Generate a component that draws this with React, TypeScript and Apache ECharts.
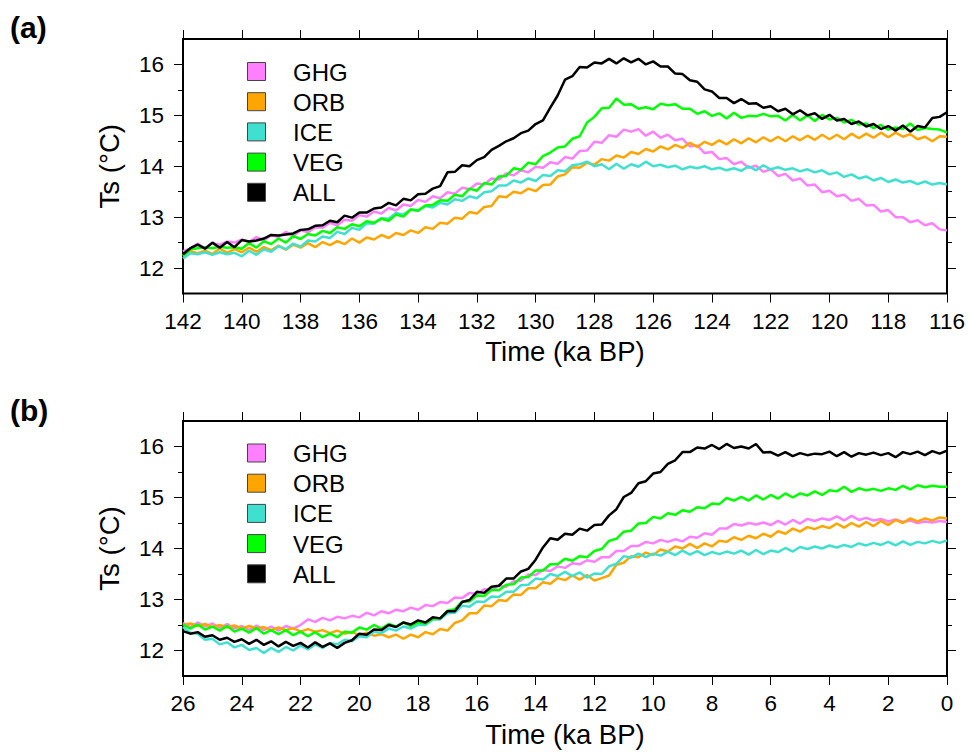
import React, { useEffect, useRef } from "react";
import * as echarts from "echarts";

// ---------- data (Ts in °C, one value every 0.25 ka) ----------
// Panel (a): 142 ka -> 116 ka
const startA = 142;
const stepA = 0.25;
const ghgA = [
  12.33, 12.38, 12.48, 12.38, 12.49, 12.46, 12.52, 12.50, 12.56, 12.51, 12.61, 12.54,
  12.65, 12.61, 12.71, 12.63, 12.74, 12.70, 12.80, 12.79, 12.89, 12.84, 12.95, 12.93,
  13.04, 13.01, 13.11, 13.07, 13.18, 13.13, 13.25, 13.22, 13.34, 13.30, 13.41, 13.37,
  13.49, 13.46, 13.58, 13.55, 13.66, 13.64, 13.76, 13.74, 13.86, 13.82, 13.92, 13.88,
  13.99, 13.97, 14.08, 14.05, 14.18, 14.15, 14.30, 14.31, 14.48, 14.46, 14.61, 14.58,
  14.72, 14.68, 14.73, 14.60, 14.68, 14.56, 14.62, 14.51, 14.54, 14.39, 14.41, 14.26,
  14.28, 14.14, 14.16, 14.04, 14.09, 13.97, 14.01, 13.89, 13.94, 13.81, 13.85, 13.72,
  13.76, 13.62, 13.64, 13.49, 13.52, 13.41, 13.44, 13.32, 13.36, 13.23, 13.24, 13.11,
  13.14, 13.00, 13.00, 12.90, 12.94, 12.84, 12.88, 12.76, 12.74,
];
const orbA = [
  12.24, 12.33, 12.29, 12.34, 12.28, 12.38, 12.30, 12.37, 12.31, 12.40, 12.32, 12.41,
  12.35, 12.44, 12.36, 12.46, 12.40, 12.49, 12.41, 12.51, 12.45, 12.53, 12.47, 12.58,
  12.50, 12.60, 12.56, 12.65, 12.59, 12.69, 12.65, 12.74, 12.69, 12.80, 12.77, 12.89,
  12.87, 12.99, 12.97, 13.10, 13.07, 13.20, 13.22, 13.41, 13.39, 13.50, 13.47, 13.56,
  13.51, 13.63, 13.64, 13.80, 13.84, 13.98, 13.97, 14.07, 14.03, 14.14, 14.11, 14.21,
  14.17, 14.28, 14.24, 14.34, 14.29, 14.39, 14.33, 14.42, 14.36, 14.46, 14.38, 14.48,
  14.42, 14.51, 14.43, 14.53, 14.45, 14.55, 14.47, 14.57, 14.49, 14.58, 14.49, 14.59,
  14.51, 14.60, 14.52, 14.62, 14.53, 14.62, 14.53, 14.64, 14.55, 14.64, 14.56, 14.66,
  14.57, 14.66, 14.58, 14.63, 14.53, 14.58, 14.49, 14.59, 14.58,
];
const iceA = [
  12.19, 12.29, 12.27, 12.31, 12.26, 12.31, 12.27, 12.30, 12.23, 12.34, 12.26, 12.37,
  12.32, 12.43, 12.37, 12.48, 12.42, 12.54, 12.52, 12.62, 12.59, 12.71, 12.67, 12.79,
  12.75, 12.88, 12.87, 12.98, 12.97, 13.08, 13.05, 13.15, 13.12, 13.22, 13.19, 13.28,
  13.25, 13.35, 13.32, 13.41, 13.37, 13.49, 13.51, 13.62, 13.62, 13.72, 13.68, 13.76,
  13.71, 13.83, 13.81, 13.92, 13.90, 14.02, 14.04, 14.09, 14.00, 14.04, 13.94, 14.05,
  13.95, 14.04, 13.99, 14.09, 14.00, 14.03, 13.98, 14.01, 13.94, 13.99, 13.96, 14.00,
  13.94, 13.97, 13.92, 13.96, 13.91, 14.00, 13.92, 14.02, 13.94, 13.98, 13.93, 13.96,
  13.90, 13.94, 13.88, 13.92, 13.84, 13.88, 13.79, 13.84, 13.76, 13.80, 13.72, 13.77,
  13.69, 13.74, 13.68, 13.71, 13.65, 13.70, 13.64, 13.67, 13.64,
];
const vegA = [
  12.24, 12.37, 12.39, 12.41, 12.39, 12.42, 12.40, 12.41, 12.38, 12.49, 12.40, 12.53,
  12.47, 12.58, 12.50, 12.63, 12.57, 12.67, 12.64, 12.73, 12.69, 12.80, 12.77, 12.86,
  12.82, 12.92, 12.89, 12.97, 12.93, 13.05, 13.01, 13.15, 13.13, 13.23, 13.24, 13.33,
  13.32, 13.44, 13.41, 13.56, 13.52, 13.67, 13.64, 13.80, 13.81, 13.96, 13.93, 14.07,
  14.04, 14.20, 14.27, 14.37, 14.39, 14.54, 14.59, 14.86, 14.97, 15.14, 15.15, 15.33,
  15.21, 15.22, 15.13, 15.16, 15.12, 15.23, 15.20, 15.22, 15.13, 15.13, 15.03, 15.08,
  14.99, 15.04, 14.94, 15.05, 14.95, 14.99, 14.98, 15.03, 14.98, 14.99, 14.90, 15.01,
  14.90, 15.00, 14.89, 15.01, 14.92, 14.95, 14.86, 14.91, 14.82, 14.84, 14.75, 14.81,
  14.72, 14.76, 14.73, 14.84, 14.71, 14.75, 14.73, 14.72, 14.66,
];
const allA = [
  12.27, 12.39, 12.46, 12.38, 12.50, 12.40, 12.51, 12.41, 12.55, 12.52, 12.54, 12.58,
  12.65, 12.64, 12.66, 12.68, 12.75, 12.76, 12.83, 12.84, 12.93, 12.90, 13.03, 12.99,
  13.09, 13.09, 13.17, 13.19, 13.28, 13.23, 13.36, 13.33, 13.45, 13.46, 13.56, 13.61,
  13.88, 13.89, 14.02, 14.00, 14.12, 14.18, 14.32, 14.40, 14.49, 14.55, 14.65, 14.70,
  14.83, 14.90, 15.15, 15.39, 15.70, 15.77, 15.95, 15.94, 16.04, 16.02, 16.11, 16.02,
  16.12, 16.04, 16.11, 16.00, 16.06, 15.96, 15.96, 15.82, 15.81, 15.69, 15.66, 15.51,
  15.47, 15.34, 15.34, 15.24, 15.32, 15.23, 15.24, 15.15, 15.18, 15.08, 15.13, 15.02,
  15.10, 15.00, 15.04, 14.93, 15.01, 14.90, 14.93, 14.83, 14.88, 14.78, 14.83, 14.73,
  14.79, 14.70, 14.80, 14.68, 14.79, 14.76, 14.95, 14.97, 15.06,
];

// Panel (b): 26 ka -> 0 ka
const startB = 26;
const stepB = 0.25;
const ghgB = [
  12.54, 12.46, 12.55, 12.47, 12.53, 12.44, 12.52, 12.43, 12.48, 12.40, 12.49, 12.40,
  12.47, 12.39, 12.48, 12.43, 12.50, 12.61, 12.56, 12.64, 12.59, 12.66, 12.63, 12.68,
  12.65, 12.74, 12.69, 12.77, 12.73, 12.80, 12.77, 12.84, 12.80, 12.89, 12.87, 12.95,
  12.93, 13.04, 13.03, 13.13, 13.11, 13.20, 13.18, 13.27, 13.25, 13.36, 13.37, 13.49,
  13.48, 13.58, 13.56, 13.65, 13.62, 13.71, 13.69, 13.77, 13.74, 13.83, 13.83, 13.95,
  13.95, 14.05, 14.05, 14.13, 14.10, 14.17, 14.13, 14.18, 14.14, 14.23, 14.21, 14.30,
  14.27, 14.39, 14.39, 14.48, 14.45, 14.50, 14.47, 14.51, 14.46, 14.54, 14.47, 14.56,
  14.49, 14.58, 14.54, 14.59, 14.56, 14.63, 14.55, 14.64, 14.56, 14.60, 14.55, 14.58,
  14.53, 14.57, 14.52, 14.55, 14.50, 14.53, 14.51, 14.54, 14.52,
];
const orbB = [
  12.50, 12.53, 12.48, 12.52, 12.46, 12.50, 12.45, 12.49, 12.43, 12.48, 12.43, 12.46,
  12.40, 12.45, 12.40, 12.44, 12.37, 12.42, 12.37, 12.40, 12.34, 12.39, 12.33, 12.36,
  12.30, 12.35, 12.29, 12.32, 12.26, 12.31, 12.23, 12.31, 12.26, 12.36, 12.32, 12.42,
  12.39, 12.54, 12.59, 12.73, 12.73, 12.88, 12.87, 12.99, 12.97, 13.10, 13.09, 13.22,
  13.22, 13.34, 13.31, 13.42, 13.38, 13.47, 13.39, 13.48, 13.37, 13.42, 13.47, 13.68,
  13.72, 13.85, 13.83, 13.92, 13.87, 13.98, 13.94, 14.04, 14.00, 14.09, 14.01, 14.10,
  14.04, 14.15, 14.13, 14.22, 14.17, 14.25, 14.20, 14.29, 14.23, 14.34, 14.29, 14.39,
  14.33, 14.42, 14.38, 14.44, 14.40, 14.49, 14.41, 14.50, 14.43, 14.52, 14.44, 14.54,
  14.46, 14.56, 14.50, 14.59, 14.53, 14.59, 14.55, 14.61, 14.59,
];
const iceB = [
  12.46, 12.35, 12.33, 12.21, 12.23, 12.12, 12.16, 12.06, 12.11, 12.01, 12.05, 11.95,
  12.05, 11.97, 12.07, 12.00, 12.10, 12.02, 12.12, 12.05, 12.15, 12.12, 12.21, 12.18,
  12.28, 12.26, 12.37, 12.34, 12.43, 12.39, 12.47, 12.43, 12.50, 12.50, 12.61, 12.61,
  12.73, 12.74, 12.88, 12.86, 12.96, 12.95, 13.06, 13.05, 13.15, 13.15, 13.28, 13.29,
  13.41, 13.39, 13.50, 13.46, 13.54, 13.46, 13.53, 13.43, 13.51, 13.50, 13.65, 13.70,
  13.85, 13.82, 13.90, 13.83, 13.90, 13.86, 13.94, 13.87, 13.96, 13.88, 13.95, 13.87,
  13.93, 13.89, 13.94, 13.90, 13.96, 13.88, 13.97, 13.89, 13.96, 13.93, 14.01, 13.94,
  14.03, 13.99, 14.04, 14.00, 14.06, 14.02, 14.07, 14.03, 14.10, 14.06, 14.11, 14.07,
  14.13, 14.06, 14.14, 14.07, 14.13, 14.10, 14.15, 14.11, 14.16,
];
const vegB = [
  12.51, 12.43, 12.51, 12.41, 12.47, 12.39, 12.48, 12.37, 12.43, 12.35, 12.44, 12.33,
  12.40, 12.32, 12.40, 12.30, 12.37, 12.28, 12.36, 12.26, 12.33, 12.26, 12.37, 12.35,
  12.45, 12.41, 12.50, 12.43, 12.52, 12.47, 12.55, 12.48, 12.55, 12.53, 12.62, 12.63,
  12.78, 12.81, 12.96, 12.96, 13.08, 13.07, 13.19, 13.18, 13.29, 13.30, 13.43, 13.44,
  13.57, 13.57, 13.69, 13.69, 13.80, 13.76, 13.85, 13.83, 13.95, 13.99, 14.15, 14.19,
  14.33, 14.35, 14.49, 14.50, 14.62, 14.59, 14.69, 14.66, 14.75, 14.72, 14.81, 14.79,
  14.88, 14.87, 14.99, 14.94, 15.01, 14.94, 15.04, 14.96, 15.05, 14.98, 15.08, 15.00,
  15.08, 15.04, 15.12, 15.05, 15.14, 15.12, 15.21, 15.11, 15.18, 15.14, 15.17, 15.13,
  15.18, 15.15, 15.23, 15.16, 15.24, 15.20, 15.23, 15.21, 15.21,
];
const allB = [
  12.38, 12.33, 12.36, 12.27, 12.30, 12.21, 12.25, 12.17, 12.22, 12.13, 12.21, 12.11,
  12.18, 12.08, 12.17, 12.09, 12.15, 12.06, 12.16, 12.07, 12.14, 12.05, 12.15, 12.20,
  12.33, 12.31, 12.41, 12.40, 12.50, 12.46, 12.55, 12.51, 12.59, 12.55, 12.65, 12.63,
  12.77, 12.77, 12.95, 12.99, 13.15, 13.13, 13.25, 13.27, 13.41, 13.41, 13.55, 13.60,
  13.78, 14.02, 14.20, 14.17, 14.29, 14.27, 14.39, 14.35, 14.46, 14.47, 14.65, 14.77,
  15.01, 15.09, 15.28, 15.32, 15.47, 15.50, 15.66, 15.73, 15.89, 15.89, 15.98, 15.96,
  16.03, 15.95, 16.05, 15.97, 16.00, 15.96, 16.05, 15.88, 15.89, 15.82, 15.89, 15.81,
  15.87, 15.83, 15.86, 15.85, 15.90, 15.81, 15.89, 15.80, 15.87, 15.84, 15.88, 15.83,
  15.87, 15.79, 15.89, 15.85, 15.90, 15.83, 15.91, 15.86, 15.92,
];

const seriesNames = ["GHG", "ORB", "ICE", "VEG", "ALL"];
const seriesColors = ["#FF80FF", "#FFA500", "#40E0D0", "#00FF00", "#000000"];
const panelLabels = ["(a)", "(b)"];
const yLabelTicks = [12, 13, 14, 15, 16];
const yMinorTicks = [12.5, 13.5, 14.5, 15.5];
const xRangeA = [116, 142];
const xRangeB = [0, 26];
const yRange = [11.5, 16.5];
const xTitle = "Time (ka BP)";
const yTitle = "Ts (°C)";

const FONT = '"Liberation Sans", Arial, Helvetica, sans-serif';

function pairs(start: number, step: number, vals: number[]) {
  return vals.map((v, i) => [start - i * step, v]);
}

export default function App() {
  const ref = useRef<HTMLDivElement>(null);

  useEffect(() => {
    document.body.style.margin = "0";
    if (!ref.current) return;
    const chart = echarts.init(ref.current, null, { renderer: "svg" });

    const grids = [
      { top: 39, height: 254.5 },
      { top: 421, height: 255 },
    ];
    const left = 183;
    const width = 764;
    const tickStyle = { color: "#000", width: 1 };

    const xAxes: any[] = [];
    const yAxes: any[] = [];
    [xRangeA, xRangeB].forEach((r, g) => {
      const common = {
        gridIndex: g,
        type: "value",
        min: r[0],
        max: r[1],
        interval: 2,
        inverse: true,
        splitLine: { show: false },
        axisLine: { show: false, onZero: false },
        axisTick: { show: true, length: 9, lineStyle: tickStyle },
      };
      xAxes.push({
        ...common,
        position: "bottom",
        axisLabel: { fontSize: 22.5, color: "#000", margin: 16, fontFamily: FONT },
        name: xTitle,
        nameLocation: "middle",
        nameGap: 44,
        nameTextStyle: { fontSize: 27.5, color: "#000", fontFamily: FONT },
      });
      xAxes.push({ ...common, position: "top", axisLabel: { show: false } });

      const yc = {
        gridIndex: g,
        type: "value",
        min: yRange[0],
        max: yRange[1],
        splitLine: { show: false },
        axisLine: { show: false, onZero: false },
      };
      yAxes.push({
        ...yc,
        position: "left",
        axisTick: { show: true, length: 9, lineStyle: tickStyle, customValues: yLabelTicks },
        axisLabel: {
          fontSize: 22.5,
          color: "#000",
          margin: 19,
          fontFamily: FONT,
          customValues: yLabelTicks,
        },
        name: yTitle,
        nameLocation: "middle",
        nameGap: 60,
        nameTextStyle: { fontSize: 27.5, color: "#000", fontFamily: FONT },
      });
      yAxes.push({
        ...yc,
        position: "left",
        axisTick: { show: true, length: 5, lineStyle: tickStyle, customValues: yMinorTicks },
        axisLabel: { show: false },
      });
      yAxes.push({
        ...yc,
        position: "right",
        axisTick: { show: true, length: 9, lineStyle: tickStyle, customValues: yLabelTicks },
        axisLabel: { show: false },
      });
      yAxes.push({
        ...yc,
        position: "right",
        axisTick: { show: true, length: 5, lineStyle: tickStyle, customValues: yMinorTicks },
        axisLabel: { show: false },
      });
    });

    const dataA = [ghgA, orbA, iceA, vegA, allA];
    const dataB = [ghgB, orbB, iceB, vegB, allB];
    const series: any[] = [];
    dataA.forEach((vals, k) => {
      series.push({
        name: seriesNames[k],
        type: "line",
        xAxisIndex: 0,
        yAxisIndex: 0,
        showSymbol: false,
        symbol: "none",
        data: pairs(startA, stepA, vals),
        lineStyle: { color: seriesColors[k], width: 2.5 },
        itemStyle: { color: seriesColors[k] },
        z: 2 + k,
      });
    });
    dataB.forEach((vals, k) => {
      series.push({
        name: seriesNames[k],
        type: "line",
        xAxisIndex: 2,
        yAxisIndex: 4,
        showSymbol: false,
        symbol: "none",
        data: pairs(startB, stepB, vals),
        lineStyle: { color: seriesColors[k], width: 2.5 },
        itemStyle: { color: seriesColors[k] },
        z: 2 + k,
      });
    });

    const graphic: any[] = [];
    const labelTops = [12, 395];
    const legendTops = [62.5, 444];
    panelLabels.forEach((lab, g) => {
      graphic.push({
        type: "text",
        x: 10,
        y: labelTops[g],
        style: {
          text: lab,
          fontSize: 30,
          fontWeight: "bold",
          fontFamily: FONT,
          fill: "#000",
        },
      });
      seriesNames.forEach((nm, k) => {
        const y0 = legendTops[g] + k * 30.2;
        graphic.push({
          type: "rect",
          shape: { x: 247.5, y: y0, width: 18, height: 18 },
          style: { fill: seriesColors[k], stroke: "#444", lineWidth: 1 },
          z: 10,
        });
        graphic.push({
          type: "text",
          x: 293,
          y: y0 + 9.5,
          style: {
            text: nm,
            fontSize: 24,
            fontFamily: FONT,
            fill: "#000",
            verticalAlign: "middle",
          },
          z: 10,
        });
      });
    });

    chart.setOption({
      animation: false,
      backgroundColor: "#fff",
      textStyle: { fontFamily: FONT },
      grid: grids.map((g) => ({
        left,
        width,
        top: g.top,
        height: g.height,
        show: true,
        borderWidth: 2,
        borderColor: "#000",
        backgroundColor: "transparent",
      })),
      xAxis: xAxes,
      yAxis: yAxes,
      series,
      graphic,
    });

    return () => chart.dispose();
  }, []);

  return <div ref={ref} style={{ width: 969, height: 752 }} />;
}
